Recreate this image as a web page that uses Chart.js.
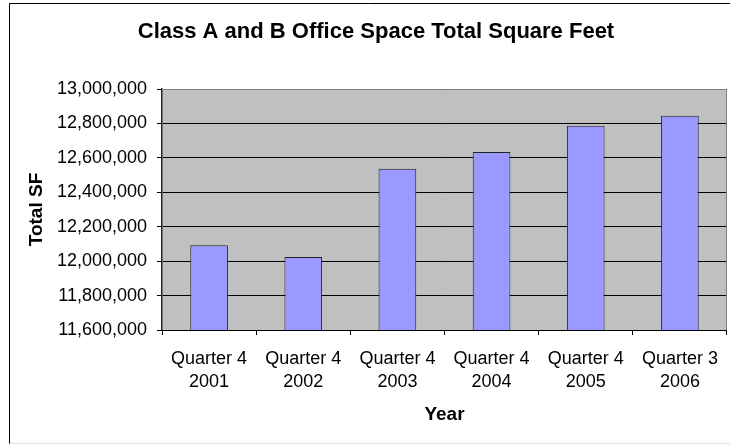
<!DOCTYPE html>
<html>
<head>
<meta charset="utf-8">
<title>Class A and B Office Space Total Square Feet</title>
<script src="https://cdn.jsdelivr.net/npm/chart.js@4.4.1/dist/chart.umd.min.js"></script>
<style>
  html, body { margin: 0; padding: 0; background: #fff; }
  #wrap { width: 730px; height: 444px; position: relative; }
</style>
</head>
<body>
<div id="wrap"><canvas id="sfChart" width="730" height="444"></canvas></div>
<script>
// Categories (two-line labels) and total square footage per period
const periods = [
  ["Quarter 4", "2001"],
  ["Quarter 4", "2002"],
  ["Quarter 4", "2003"],
  ["Quarter 4", "2004"],
  ["Quarter 4", "2005"],
  ["Quarter 3", "2006"]
];
const totalSF = [12093000, 12024000, 12537000, 12634000, 12786000, 12844000];

// Value axis range
const yMin = 11600000,
      yMax = 13000000,
      yStep = 200000;

const chartTitle = "Class A and B Office Space Total Square Feet";
const FONT = "'Liberation Sans', Arial, sans-serif";

// White page, chart frame, gray plot area and the title
const frame = {
  id: "frame",
  beforeDraw(chart) {
    const { ctx, chartArea: a, width, height } = chart;
    ctx.save();
    ctx.fillStyle = "#fff";
    ctx.fillRect(0, 0, width, height);
    ctx.strokeStyle = "#000";
    ctx.lineWidth = 1;
    ctx.beginPath();
    ctx.moveTo(9.5, height);
    ctx.lineTo(9.5, 3.5);
    ctx.lineTo(width, 3.5);
    ctx.stroke();
    ctx.strokeStyle = "#e2e2e2";
    ctx.beginPath();
    ctx.moveTo(9.5, 443.5);
    ctx.lineTo(width, 443.5);
    ctx.stroke();
    ctx.fillStyle = "#c0c0c0";
    ctx.fillRect(a.left, a.top, a.right - a.left, a.bottom - a.top);

    // title sits centred on the (wider) outer frame
    ctx.fillStyle = "#000";
    ctx.font = "bold 22px " + FONT;
    ctx.textAlign = "center";
    ctx.textBaseline = "middle";
    ctx.fillText(chartTitle, 376, 32);
    ctx.restore();
  },
  afterDatasetsDraw(chart) {
    const { ctx, chartArea: a } = chart;
    ctx.save();
    ctx.strokeStyle = "#808080";
    ctx.lineWidth = 1;
    ctx.beginPath();
    ctx.moveTo(a.left, Math.round(a.top) + 0.5);
    ctx.lineTo(Math.round(a.right) - 0.5, Math.round(a.top) + 0.5);
    ctx.lineTo(Math.round(a.right) - 0.5, a.bottom);
    ctx.stroke();
    ctx.restore();
  }
};

new Chart(document.getElementById("sfChart"), {
  type: "bar",
  data: {
    labels: periods,
    datasets: [{
      label: "Total SF",
      data: totalSF,
      backgroundColor: "#9999ff",
      borderColor: "#222",
      borderWidth: 1,
      categoryPercentage: 1,
      barPercentage: 0.4
    }]
  },
  options: {
    responsive: false,
    animation: false,
    devicePixelRatio: 1,
    layout: { padding: { top: 89, left: 10, right: 1, bottom: 4 } },
    plugins: {
      legend: { display: false },
      tooltip: { enabled: false },
      title: { display: false }
    },
    scales: {
      x: {
        offset: true,
        grid: { display: true, drawOnChartArea: false, drawTicks: true, tickLength: 5, color: "#000", offset: true },
        border: { display: true, color: "#000", width: 1 },
        ticks: {
          color: "#000",
          padding: 12,
          maxRotation: 0,
          autoSkip: false,
          font: { family: FONT, size: 18, lineHeight: 1.3 }
        },
        title: {
          display: true,
          text: "Year",
          color: "#000",
          font: { family: FONT, size: 19, weight: "bold", lineHeight: 1.2 },
          padding: { top: 0, bottom: 13.6 }
        },
        afterFit(scale) { scale.height = 110; }
      },
      y: {
        min: yMin,
        max: yMax,
        grid: { color: "#000", lineWidth: 1, drawTicks: true, tickLength: 5 },
        border: { display: true, color: "#222", width: 1.5 },
        ticks: {
          stepSize: yStep,
          color: "#000",
          padding: 10,
          font: { family: FONT, size: 18 },
          callback: v => v.toLocaleString("en-US")
        },
        title: {
          display: true,
          text: "Total SF",
          color: "#000",
          font: { family: FONT, size: 19, weight: "bold", lineHeight: 1.2 },
          padding: { top: 15, bottom: 0 }
        },
        afterFit(scale) { scale.width = 152; }
      }
    }
  },
  plugins: [frame]
});
</script>
</body>
</html>
